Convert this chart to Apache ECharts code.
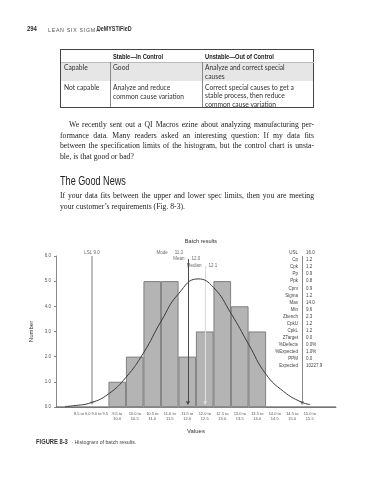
<!DOCTYPE html>
<html><head><meta charset="utf-8">
<script src="https://cdn.jsdelivr.net/npm/echarts@6/dist/echarts.min.js"></script>
<style>
html,body{margin:0;padding:0;background:#fff;}
#page{position:relative;width:367px;height:480px;overflow:hidden;background:#fff;}
#chart{position:absolute;left:0;top:0;width:367px;height:480px;}
.a{position:absolute;white-space:nowrap;color:#2a2a2a;}
.tb{font-family:Lato,'Open Sans',sans-serif;font-size:6.7px;line-height:9px;color:#333;}
.th{font-family:'Liberation Sans',sans-serif;font-weight:bold;font-size:7px;line-height:9px;color:#222;transform:scaleX(0.82);transform-origin:0 0;}
.p{font-family:'Liberation Serif','DejaVu Serif',serif;font-size:7.7px;line-height:10.5px;color:#222;width:254px;left:60px;white-space:nowrap;}
.j{text-align:justify;text-align-last:justify;}
.cond{transform-origin:0 0;}
</style></head><body>
<div id="page">
<div id="chart"></div>

<div class="a cond" style="left:27px;top:25px;font-family:'Liberation Sans',sans-serif;font-weight:bold;font-size:7px;line-height:8px;transform:scaleX(0.85);">294</div>
<div class="a" style="left:48px;top:25.5px;font-family:'Liberation Sans',sans-serif;font-size:5.3px;line-height:8px;letter-spacing:0.7px;color:#555;">LEAN SIX SIGMA</div>
<div class="a cond" style="left:97px;top:25px;font-family:'Liberation Sans',sans-serif;font-weight:bold;font-size:6.3px;line-height:8px;color:#333;transform:scaleX(0.85);">DeMYSTiFieD</div>

<!-- table -->
<div class="a" style="left:60px;top:62px;width:254px;height:19px;background:#e6e6e6;"></div>
<div class="a" style="left:60px;top:49px;width:252px;height:57px;border:1px solid #444;"></div>
<div class="a" style="left:61px;top:62px;width:253px;height:0;border-top:1px solid #bbb;"></div>
<div class="a" style="left:110px;top:62px;width:0;height:45px;border-left:1px solid #888;"></div>
<div class="a" style="left:202px;top:62px;width:0;height:45px;border-left:1px solid #888;"></div>
<div class="a th" style="left:113px;top:51.5px;">Stable—In Control</div>
<div class="a th" style="left:205px;top:51.5px;">Unstable—Out of Control</div>
<div class="a tb" style="left:64px;top:62.5px;">Capable</div>
<div class="a tb" style="left:113px;top:62.5px;">Good</div>
<div class="a tb" style="left:205px;top:62.5px;">Analyze and correct special<br>causes</div>
<div class="a tb" style="left:64px;top:82.5px;">Not capable</div>
<div class="a tb" style="left:113px;top:82.5px;">Analyze and reduce<br>common cause variation</div>
<div class="a tb" style="left:205px;top:82.5px;line-height:8.5px;">Correct special causes to get a<br>stable process, then reduce<br>common cause variation</div>

<!-- paragraph -->
<div class="a p j" style="top:120px;left:69px;width:245px;">We recently sent out a QI Macros ezine about analyzing manufacturing per-</div>
<div class="a p j" style="top:130.5px;">formance data. Many readers asked an interesting question: If my data fits</div>
<div class="a p j" style="top:141px;">between the specification limits of the histogram, but the control chart is unsta-</div>
<div class="a p" style="top:151.5px;">ble, is that good or bad?</div>

<div class="a cond" style="left:60px;top:174px;font-family:'Liberation Sans',sans-serif;font-size:12px;line-height:14px;color:#222;transform:scaleX(0.76);">The Good News</div>

<div class="a p j" style="top:191px;">If your data fits between the upper and lower spec limits, then you are meeting</div>
<div class="a p" style="top:201.5px;">your customer’s requirements (Fig. 8-3).</div>

<!-- caption -->
<div class="a" style="left:36px;top:435px;line-height:8px;"><span class="cond" style="display:inline-block;font-family:'Liberation Sans',sans-serif;font-weight:bold;font-size:6.8px;color:#333;transform:scaleX(0.85);width:34px;">FIGURE 8-3</span><span style="font-family:'Liberation Sans',sans-serif;font-size:5.2px;color:#444;"> · Histogram of batch results.</span></div>

</div>
<script>
// ---- data ----
const categories = ['8.0 to 8.5','8.5 to 9.0','9.0 to 9.5','9.5 to 10.0','10.0 to 10.5','10.5 to 11.0','11.0 to 11.5','11.5 to 12.0','12.0 to 12.5','12.5 to 13.0','13.0 to 13.5','13.5 to 14.0','14.0 to 14.5','14.5 to 15.0','15.0 to 15.5','15.5 to 16.0'];
const xTickLabels = ['','8.5 to 9.0','9.0 to 9.5','9.5 to\n10.0','10.0 to\n10.5','10.5 to\n11.0','11.0 to\n11.5','11.5 to\n12.0','12.0 to\n12.5','12.5 to\n13.0','13.0 to\n13.5','13.5 to\n14.0','14.0 to\n14.5','14.5 to\n15.0','15.0 to\n15.5',''];
const counts = [0,0,0,1,2,5,5,2,3,5,4,3,0,0,0,0];
const curveX = [8.26,8.5,9.0,9.5,10.0,10.5,11.0,11.5,12.06,12.5,13.0,13.5,14.0,14.5,15.0,15.26];
const curveY = [0.02,0.05,0.17,0.52,1.18,2.15,3.4,4.5,5.09,4.75,3.72,2.5,1.3,0.62,0.2,0.1];
const refNames = ['LSL','Mode','Mean','Median','USL'];
const refValues = ['9.0','11.3','12.0','12.1','16.0'];
const refPos = [9.03,11.29,11.77,12.26,15.03];
const statLabels = ['USL','Cp','Cpk','Pp','Ppk','Cpm','Sigma','Max','Min','Zbench','CpkU','CpkL','ZTarget','%Defects','%Expected','PPM','Expected'];
const statValues = ['16.0','1.2','1.2','0.9','0.8','0.9','1.2','14.0','9.6','2.3','1.2','1.2','0.0','0.0%','1.0%','0.0','10227.9'];
const yTicks = [0,1,2,3,4,5,6];

// ---- chart ----
const FONT = "'Liberation Sans', Arial, sans-serif";
const chart = echarts.init(document.getElementById('chart'), null, {renderer:'canvas'});
const lineColors = ['#a9a9a9','#8e8e8e','#4a4a4a','#dcdcdc','#8a8a8a'];
const lineWidths = [1.5,1,1,1.2,1];
const lineTops = [6.0,6.12,5.88,5.6,6.0];
const arrowEnd = 0.15;

const markData = refPos.map((p,i)=>[
  {coord:[p, lineTops[i]], lineStyle:{color:lineColors[i], width:lineWidths[i], type:'solid'}, itemStyle:{color:lineColors[i]}},
  {coord:[p, arrowEnd]}
]);

const option = {
  animation:false,
  backgroundColor:'transparent',
  textStyle:{fontFamily:FONT},
  title:{text:'Batch results', left:196, top:233, textAlign:'center',
    textStyle:{fontSize:5.6, fontWeight:'normal', color:'#333', fontFamily:FONT}},
  grid:{left:56, right:31, top:256, bottom:73, containLabel:false},
  xAxis:[
    {type:'category', data:categories, boundaryGap:true,
     axisLine:{lineStyle:{color:'#888', width:1}}, axisTick:{show:false},
     axisLabel:{interval:0, hideOverlap:false, fontSize:4, lineHeight:5, color:'#555', margin:4, fontFamily:FONT,
       formatter:(v,i)=>xTickLabels[i]},
     name:'Values', nameLocation:'middle', nameGap:21,
     nameTextStyle:{fontSize:6, color:'#333', fontFamily:FONT}},
    {type:'value', min:8, max:16, show:false}
  ],
  yAxis:{type:'value', min:yTicks[0], max:yTicks[yTicks.length-1], interval:1,
    axisLine:{show:true, lineStyle:{color:'#888'}},
    axisTick:{show:true, length:2, lineStyle:{color:'#888'}},
    axisLabel:{fontSize:4.5, color:'#555', margin:5, fontFamily:FONT, formatter:v=>v.toFixed(1)},
    splitLine:{show:false},
    name:'Number', nameLocation:'middle', nameGap:16,
    nameTextStyle:{fontSize:6, color:'#333', fontFamily:FONT}},
  series:[
    {type:'bar', xAxisIndex:0, data:counts, barCategoryGap:'0%', barWidth:'100%',
     itemStyle:{color:'#b4b4b4', borderColor:'#6c6c6c', borderWidth:0.8}, z:2},
    {type:'line', xAxisIndex:1, data:curveX.map((x,i)=>[x,curveY[i]]), smooth:true, symbol:'none',
     lineStyle:{color:'#3a3a3a', width:1}, clip:false, z:5,
     markLine:{silent:true, symbol:['none','triangle'], symbolSize:4, label:{show:false}, data:markData}},
    {type:'scatter', xAxisIndex:1, symbolSize:1, itemStyle:{color:'rgba(0,0,0,0)'}, clip:false, silent:true,
     data:[[refPos[0], 6.12]],
     label:{show:true, position:'inside', formatter:()=>refNames[0]+' '+refValues[0], fontSize:4.5, color:'#444', fontFamily:FONT}},
    {type:'scatter', xAxisIndex:1, symbolSize:1, itemStyle:{color:'rgba(0,0,0,0)'}, clip:false, silent:true,
     data:[1,2,3].map(i=>[refPos[i], lineTops[i]]),
     label:{show:true, position:'left', distance:3, formatter:p=>refNames[p.dataIndex+1], fontSize:4.5, color:'#444', fontFamily:FONT}},
    {type:'scatter', xAxisIndex:1, symbolSize:1, itemStyle:{color:'rgba(0,0,0,0)'}, clip:false, silent:true,
     data:[1,2,3].map(i=>[refPos[i], lineTops[i]]),
     label:{show:true, position:'right', distance:3, formatter:p=>refValues[p.dataIndex+1], fontSize:4.5, color:'#444', fontFamily:FONT}}
  ]
};
chart.setOption(option);

// stats panel split by the USL line
const ux = chart.convertToPixel({xAxisIndex:1}, refPos[4]);
const uy = chart.convertToPixel({yAxisIndex:0}, 6.12);
const rowH = 7.06;
const g = [];
statLabels.forEach((s,i)=>{
  g.push({type:'text', x:ux-4, y:uy+i*rowH, silent:true,
    style:{text:s, align:'right', verticalAlign:'middle', fontSize:4.5, fontFamily:FONT, fill:'#444'}});
  g.push({type:'text', x:ux+4, y:uy+i*rowH, silent:true,
    style:{text:statValues[i], align:'left', verticalAlign:'middle', fontSize:4.5, fontFamily:FONT, fill:'#444'}});
});
chart.setOption({graphic:g});
</script>
</body></html>
